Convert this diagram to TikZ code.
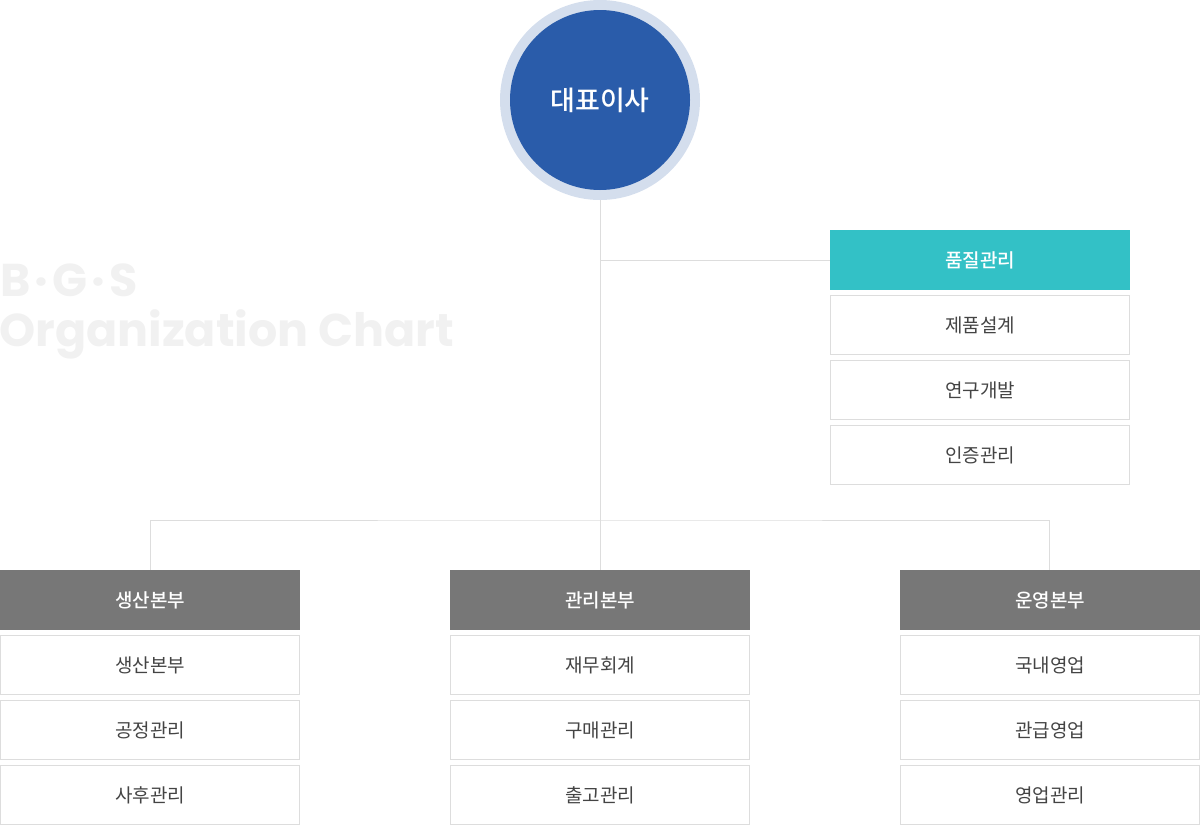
\documentclass[tikz,border=0pt]{standalone}
\usepackage{fontspec}
\newfontfamily\krfont{Noto Sans CJK KR}
\newfontfamily\krmed{Noto Sans CJK KR Medium}
\newfontfamily\markfont{Poppins Bold}
\usetikzlibrary{positioning}
\definecolor{ceoblue}{HTML}{2A5CAA}
\definecolor{ceoring}{HTML}{D4DEED}
\definecolor{qateal}{HTML}{33C1C6}
\definecolor{headgray}{HTML}{777777}
\definecolor{boxline}{HTML}{DDDDDD}
\definecolor{boxtext}{HTML}{444444}
\definecolor{marktext}{HTML}{F1F1F1}
\tikzset{
  headbox/.style={minimum width=300, minimum height=60, inner sep=0, outer sep=0, text=white, font=\krmed\fontsize{19}{19}\selectfont},
  subbox/.style={draw=boxline, line width=1, fill=white, minimum width=299, minimum height=59, inner sep=0, outer sep=0, text=boxtext, font=\krfont\fontsize{19}{19}\selectfont},
  link/.style={draw=boxline, line width=1}
}
\begin{document}
\begin{tikzpicture}[x=1pt,y=-1pt]
\useasboundingbox (0,0) rectangle (1200,825);
% watermark
\node [anchor=base west, inner sep=0, text=marktext, font=\markfont\fontsize{46}{46}\selectfont] (mark1) at (0,296) {B\kern4pt·\kern4pt G\kern4pt·\kern4pt S};
\node [anchor=base west, inner sep=0, text=marktext, font=\markfont\fontsize{46}{46}\selectfont] (mark2) at (-1,346) {Organization Chart};
% ceo
\node [circle, fill=ceoring, minimum size=200, inner sep=0] (ring) at (600,100) {};
\node [circle, fill=ceoblue, minimum size=180, inner sep=0, text=white, font=\krmed\fontsize{27}{27}\selectfont] (ceo) at (600,100) {대표이사};
% quality
\node [headbox, fill=qateal] (qa) at (980,260) {품질관리};
\node [subbox, below=5.5pt of qa] (qa1) {제품설계};
\node [subbox, below=6pt of qa1] (qa2) {연구개발};
\node [subbox, below=6pt of qa2] (qa3) {인증관리};
% divisions
\node [headbox, fill=headgray] (prod) at (150,600) {생산본부};
\node [headbox, fill=headgray] (mgmt) at (600,600) {관리본부};
\node [headbox, fill=headgray] (ops) at (1050,600) {운영본부};
\foreach \d/\a/\b/\c in {prod/생산본부/공정관리/사후관리, mgmt/재무회계/구매관리/출고관리, ops/국내영업/관급영업/영업관리} {
  \node [subbox, below=5.5pt of \d] (\d1) {\a};
  \node [subbox, below=6pt of \d1] (\d2) {\b};
  \node [subbox, below=6pt of \d2] (\d3) {\c};
}
% links
\coordinate (qaturn) at (600,260);
\coordinate (split) at (600,520);
\path [link] (ring.south) -- (mgmt.north);
\path [link] (qaturn) -- (qa.west);
\path [link] ([xshift=0.5]prod.north) |- (split) -| ([xshift=-1]ops.north);
\end{tikzpicture}
\end{document}
